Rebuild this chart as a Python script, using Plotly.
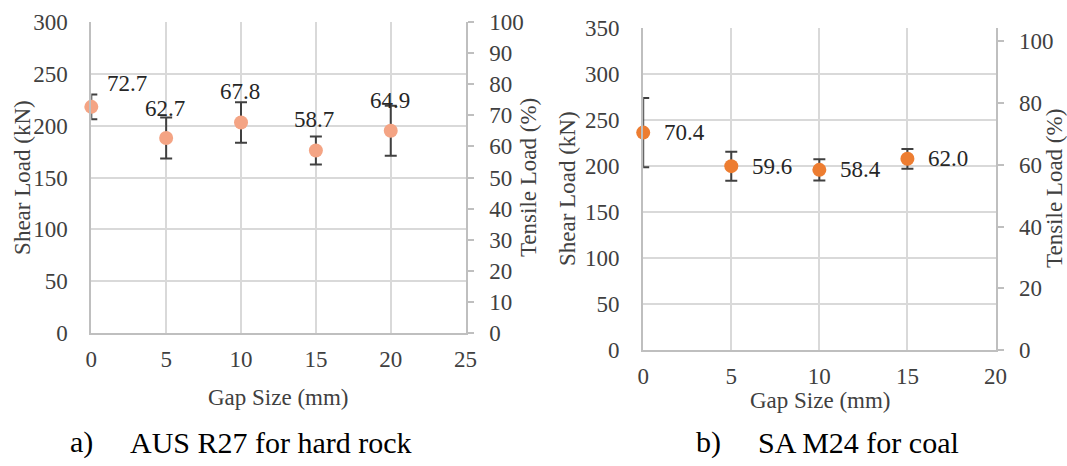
import plotly.graph_objects as go

# ---- data: a) AUS R27 for hard rock ----
a_gap = [0, 5, 10, 15, 20]
a_shear = [218, 188, 203, 176, 195]          # kN
a_err = [12, 19.7, 19.5, 13.5, 24]           # kN
a_pct = ["72.7", "62.7", "67.8", "58.7", "64.9"]

# ---- data: b) SA M24 for coal ----
b_gap = [0, 5, 10, 15]
b_shear = [236.5, 200, 196, 208]             # kN
b_err = [37.8, 15.8, 11.5, 10.7]             # kN
b_pct = ["70.4", "59.6", "58.4", "62.0"]

W, H = 1067, 466
FONT = "Liberation Serif"
TXT = "#404040"
GRID = "#D9D9D9"
AXL = "#BFBFBF"
ERR = "#404040"
COL_A = "#F4A484"
COL_B = "#ED7D31"


def px(x):
    return x / W


def py(y):
    return (H - y) / H


fig = go.Figure()

# error bars (clipped to plot area) + markers (not clipped)
fig.add_trace(go.Scatter(x=a_gap, y=a_shear, mode="markers", xaxis="x", yaxis="y",
                         marker=dict(size=14, color=COL_A, opacity=0),
                         error_y=dict(type="data", array=a_err, color=ERR, thickness=2, width=6),
                         cliponaxis=True, showlegend=False, hoverinfo="skip"))
fig.add_trace(go.Scatter(x=a_gap, y=a_shear, mode="markers", xaxis="x", yaxis="y",
                         marker=dict(size=14, color=COL_A),
                         cliponaxis=False, showlegend=False))
fig.add_trace(go.Scatter(x=b_gap, y=b_shear, mode="markers", xaxis="x2", yaxis="y3",
                         marker=dict(size=14, color=COL_B, opacity=0),
                         error_y=dict(type="data", array=b_err, color=ERR, thickness=2, width=6),
                         cliponaxis=True, showlegend=False, hoverinfo="skip"))
fig.add_trace(go.Scatter(x=b_gap, y=b_shear, mode="markers", xaxis="x2", yaxis="y3",
                         marker=dict(size=14, color=COL_B),
                         cliponaxis=False, showlegend=False))
# dummy traces to activate right axes
fig.add_trace(go.Scatter(x=[None], y=[None], xaxis="x", yaxis="y2", showlegend=False))
fig.add_trace(go.Scatter(x=[None], y=[None], xaxis="x2", yaxis="y4", showlegend=False))

tickfont = dict(family=FONT, size=23, color=TXT)

common_x = dict(showgrid=True, gridcolor=GRID, gridwidth=2, zeroline=False,
                showline=True, linecolor=AXL, linewidth=2, ticks="",
                tickfont=tickfont, ticklabelstandoff=4, fixedrange=True, automargin=False)
common_yl = dict(showgrid=True, gridcolor=GRID, gridwidth=2, zeroline=False,
                 showline=True, linecolor=AXL, linewidth=2, ticks="",
                 tickfont=tickfont, ticklabelstandoff=17, fixedrange=True, automargin=False)
common_yr = dict(showgrid=False, zeroline=False, showline=True, linecolor=AXL, linewidth=2,
                 ticks="outside", ticklen=6, tickcolor=AXL, tickwidth=2,
                 tickfont=tickfont, ticklabelstandoff=11, side="right", fixedrange=True,
                 automargin=False)

fig.update_layout(
    width=W, height=H,
    margin=dict(l=0, r=0, t=0, b=0, autoexpand=False),
    font=dict(family=FONT, size=23, color=TXT),
    paper_bgcolor="white", plot_bgcolor="white",
    xaxis=dict(domain=[px(91.3), px(465.6)], range=[0, 25], dtick=5, anchor="y", **common_x),
    yaxis=dict(domain=[py(333.3), py(21.7)], range=[0, 300], dtick=50, anchor="x", **common_yl),
    yaxis2=dict(range=[0, 100], dtick=10, overlaying="y", anchor="x", **common_yr),
    xaxis2=dict(domain=[px(643.2), px(995.5)], range=[0, 20], dtick=5, anchor="y3", **common_x),
    yaxis3=dict(domain=[py(350), py(28.3)], range=[0, 350], dtick=50, anchor="x2", **common_yl),
    yaxis4=dict(range=[0, 104.2], tickvals=[0, 20, 40, 60, 80, 100], overlaying="y3",
                anchor="x2", **common_yr),
)

ann = []
lab_font = dict(family=FONT, size=23, color="#262626")
# data labels, panel a (above points; first one nudged right)
a_shift = [(36, 23), (-1, 30), (-1, 31), (-1.5, 31), (-1, 30)]
for xv, yv, t, (dx, dy) in zip(a_gap, a_shear, a_pct, a_shift):
    ann.append(dict(x=xv, y=yv, xref="x", yref="y", text=t, showarrow=False,
                    xanchor="center", yanchor="middle",
                    xshift=dx, yshift=dy, font=lab_font))
# data labels, panel b (right of points)
for xv, yv, t in zip(b_gap, b_shear, b_pct):
    ann.append(dict(x=xv, y=yv, xref="x2", yref="y3", text=t, showarrow=False,
                    xanchor="center", yanchor="middle",
                    xshift=41, yshift=0, font=lab_font))

title_font = dict(family=FONT, size=23, color=TXT)


def title(x, y, text, angle=0):
    return dict(x=px(x), y=py(y), xref="paper", yref="paper", text=text, textangle=angle,
                xanchor="center", yanchor="middle", showarrow=False, font=title_font)


# axis titles
ann += [
    title(22.4, 177.5, "Shear Load (kN)", -90),
    title(528.6, 177.5, "Tensile Load (%)", -90),
    title(278, 398, "Gap Size (mm)"),
    title(567, 189, "Shear Load (kN)", -90),
    title(1054, 189, "Tensile Load (%)", -90),
    title(820, 400, "Gap Size (mm)"),
]
cap_font = dict(family=FONT, size=30, color="black")


def cap(x, text):
    return dict(x=px(x), y=py(442), xref="paper", yref="paper", text=text,
                xanchor="left", yanchor="middle", showarrow=False, font=cap_font)


ann += [cap(68, "a)"), cap(128, "AUS R27 for hard rock"), cap(694, "b)"), cap(756, "SA M24 for coal")]
fig.update_layout(annotations=ann)

fig.write_html("out.html")
